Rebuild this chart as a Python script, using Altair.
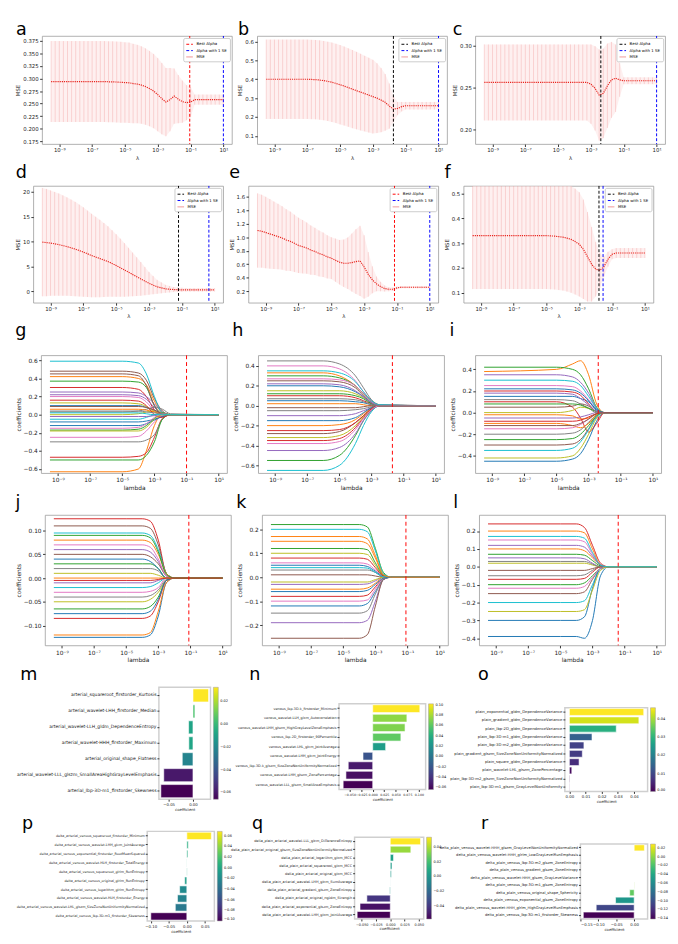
import altair as alt
import pandas as pd

FONT = "DejaVu Sans"
TAB10 = ["#1f77b4", "#ff7f0e", "#2ca02c", "#d62728", "#9467bd",
         "#8c564b", "#e377c2", "#7f7f7f", "#bcbd22", "#17becf"]

# ---------------- lambda grid (log10) for the CV-MSE panels ----------------
LAM_EXP = [-9.5, -9.25, -9.0, -8.75, -8.5, -8.25, -8.0, -7.75, -7.5, -7.25, -7.0,
           -6.75, -6.5, -6.25, -6.0, -5.75, -5.5, -5.25, -5.0, -4.75, -4.5, -4.25,
           -4.0, -3.75, -3.5, -3.25, -3.0, -2.75, -2.5, -2.25, -2.0, -1.75, -1.5,
           -1.25, -1.0, -0.75, -0.5, -0.25, 0.0, 0.25, 0.5, 0.75, 1.0]

A_MEAN = [0.294, 0.294, 0.294, 0.294, 0.294, 0.294, 0.294, 0.294, 0.294, 0.294, 0.294,
          0.294, 0.294, 0.294, 0.2935, 0.2935, 0.293, 0.2925, 0.292, 0.2915, 0.290, 0.289,
          0.287, 0.284, 0.280, 0.275, 0.268, 0.260, 0.253, 0.258, 0.265, 0.259, 0.254,
          0.252, 0.253, 0.258, 0.258, 0.258, 0.258, 0.258, 0.258, 0.258, 0.258]
A_ERR = [0.0805, 0.0805, 0.0805, 0.0805, 0.0805, 0.0805, 0.0805, 0.0805, 0.0805, 0.0805, 0.0805,
         0.0805, 0.0805, 0.0805, 0.0805, 0.0805, 0.0805, 0.0805, 0.080, 0.080, 0.079, 0.078,
         0.077, 0.076, 0.075, 0.074, 0.073, 0.071, 0.068, 0.063, 0.055, 0.048, 0.042,
         0.035, 0.030, 0.010, 0.010, 0.010, 0.010, 0.010, 0.010, 0.010, 0.010]

B_MEAN = [0.400, 0.400, 0.400, 0.400, 0.400, 0.400, 0.400, 0.400, 0.400, 0.400, 0.400,
          0.399, 0.398, 0.396, 0.393, 0.389, 0.384, 0.378, 0.371, 0.364, 0.356, 0.348,
          0.340, 0.332, 0.324, 0.316, 0.308, 0.300, 0.290, 0.278, 0.258, 0.242, 0.245,
          0.255, 0.260, 0.260, 0.260, 0.260, 0.260, 0.260, 0.260, 0.260, 0.260]
B_ERR = [0.210, 0.210, 0.210, 0.210, 0.210, 0.210, 0.210, 0.210, 0.210, 0.210, 0.210,
         0.210, 0.210, 0.210, 0.210, 0.210, 0.210, 0.210, 0.210, 0.209, 0.208, 0.207,
         0.205, 0.203, 0.200, 0.198, 0.195, 0.185, 0.170, 0.150, 0.120, 0.070, 0.035,
         0.025, 0.020, 0.020, 0.020, 0.020, 0.020, 0.020, 0.020, 0.020, 0.020]

C_MEAN = [0.256, 0.256, 0.256, 0.256, 0.256, 0.256, 0.256, 0.256, 0.256, 0.256, 0.256,
          0.256, 0.256, 0.256, 0.256, 0.256, 0.256, 0.256, 0.256, 0.256, 0.256, 0.256,
          0.256, 0.256, 0.256, 0.256, 0.254, 0.249, 0.241, 0.243, 0.252, 0.259, 0.261,
          0.259, 0.258, 0.258, 0.258, 0.258, 0.258, 0.258, 0.258, 0.258, 0.258]
C_ERR = [0.045, 0.045, 0.045, 0.045, 0.045, 0.045, 0.045, 0.045, 0.045, 0.045, 0.045,
         0.045, 0.045, 0.045, 0.045, 0.045, 0.045, 0.045, 0.045, 0.045, 0.045, 0.045,
         0.045, 0.045, 0.045, 0.045, 0.047, 0.050, 0.054, 0.053, 0.050, 0.045, 0.040,
         0.020, 0.004, 0.004, 0.004, 0.004, 0.004, 0.004, 0.004, 0.004, 0.004]

D_MEAN = [9.9, 9.8, 9.7, 9.55, 9.4, 9.2, 9.0, 8.75, 8.5, 8.2, 7.9,
          7.55, 7.2, 6.9, 6.6, 6.3, 6.0, 5.6, 5.2, 4.75, 4.3, 3.85,
          3.4, 2.95, 2.5, 2.05, 1.6, 1.25, 0.9, 0.7, 0.5, 0.42, 0.35,
          0.32, 0.3, 0.3, 0.3, 0.3, 0.3, 0.3, 0.3, 0.3, 0.3]
D_ERR = [10.9, 10.8, 10.6, 10.45, 10.3, 10.1, 9.9, 9.7, 9.5, 9.25, 9.0,
         8.7, 8.4, 8.1, 7.8, 7.45, 7.1, 6.7, 6.3, 5.85, 5.4, 4.9,
         4.4, 3.9, 3.4, 2.85, 2.3, 1.85, 1.4, 1.1, 0.8, 0.65, 0.5,
         0.45, 0.4, 0.35, 0.35, 0.35, 0.35, 0.35, 0.35, 0.35, 0.35]

E_MEAN = [1.10, 1.09, 1.07, 1.05, 1.03, 1.01, 0.99, 0.96, 0.94, 0.91, 0.88,
          0.86, 0.84, 0.81, 0.79, 0.76, 0.74, 0.71, 0.69, 0.66, 0.63, 0.615,
          0.615, 0.625, 0.64, 0.65, 0.56, 0.45, 0.37, 0.31, 0.27, 0.24, 0.23,
          0.23, 0.25, 0.26, 0.26, 0.26, 0.26, 0.26, 0.26, 0.26, 0.26]
E_ERR = [0.55, 0.54, 0.53, 0.515, 0.50, 0.485, 0.47, 0.455, 0.44, 0.425, 0.41,
         0.395, 0.38, 0.365, 0.35, 0.34, 0.33, 0.32, 0.31, 0.32, 0.33, 0.35,
         0.38, 0.43, 0.48, 0.52, 0.47, 0.33, 0.20, 0.11, 0.07, 0.045, 0.03,
         0.025, 0.02, 0.015, 0.015, 0.015, 0.015, 0.015, 0.015, 0.015, 0.015]

F_MEAN = [0.330, 0.330, 0.330, 0.330, 0.330, 0.330, 0.330, 0.330, 0.330, 0.330, 0.330,
          0.330, 0.330, 0.330, 0.330, 0.330, 0.330, 0.330, 0.330, 0.329, 0.328, 0.326,
          0.324, 0.320, 0.315, 0.306, 0.295, 0.275, 0.245, 0.215, 0.195, 0.190, 0.205,
          0.235, 0.255, 0.260, 0.260, 0.260, 0.260, 0.260, 0.260, 0.260, 0.260]
F_ERR = [0.215, 0.215, 0.215, 0.215, 0.215, 0.215, 0.215, 0.215, 0.215, 0.215, 0.215,
         0.215, 0.215, 0.215, 0.215, 0.215, 0.215, 0.215, 0.215, 0.215, 0.215, 0.215,
         0.215, 0.215, 0.215, 0.213, 0.210, 0.200, 0.180, 0.150, 0.110, 0.070, 0.040,
         0.030, 0.020, 0.020, 0.020, 0.020, 0.020, 0.020, 0.020, 0.020, 0.020]

# ---------------- coefficient paths (value at each log10 lambda of the grid) ----------------
G_GRID = [-9.5, -5, -4, -3.5, -3, -2.5, -2, 1]
G_PATHS = [
    [0.10, 0.10, 0.10, 0.08, 0.05, 0.01, 0, 0],
    [0.42, 0.42, 0.40, 0.33, 0.15, 0.02, 0, 0],
    [0.37, 0.37, 0.36, 0.30, 0.10, 0.01, 0, 0],
    [0.30, 0.30, 0.28, 0.20, 0.05, -0.02, 0, 0],
    [0.25, 0.25, 0.24, 0.20, 0.12, 0.03, 0, 0],
    [0.48, 0.48, 0.46, 0.38, 0.18, 0.04, 0, 0],
    [0.20, 0.20, 0.19, 0.14, 0.04, 0.0, 0, 0],
    [0.03, 0.03, 0.04, 0.06, 0.08, 0.06, 0.01, 0],
    [0.0, 0.0, 0.01, 0.03, 0.04, 0.02, 0, 0],
    [0.59, 0.59, 0.57, 0.45, 0.20, 0.02, 0, 0],
    [-0.08, -0.08, -0.08, -0.07, -0.05, -0.02, 0, 0],
    [-0.63, -0.63, -0.60, -0.40, -0.12, 0.01, 0, 0],
    [-0.17, -0.17, -0.16, -0.12, -0.04, 0.02, 0, 0],
    [-0.47, -0.47, -0.46, -0.42, -0.25, -0.04, 0, 0],
    [0.22, 0.22, 0.21, 0.17, 0.08, 0.01, 0, 0],
    [0.45, 0.45, 0.43, 0.32, 0.10, 0.0, 0, 0],
    [-0.25, -0.25, -0.24, -0.18, -0.08, -0.01, 0, 0],
    [-0.30, -0.30, -0.30, -0.28, -0.22, -0.05, 0, 0],
    [0.13, 0.13, 0.12, 0.09, 0.03, 0.0, 0, 0],
    [-0.05, -0.05, -0.05, -0.03, 0.0, 0.01, 0, 0],
    [-0.12, -0.12, -0.12, -0.10, -0.06, -0.02, 0, 0],
    [0.06, 0.06, 0.06, 0.05, 0.03, 0.01, 0, 0],
    [-0.50, -0.50, -0.50, -0.45, -0.30, -0.05, 0, 0],
    [0.16, 0.16, 0.15, 0.10, 0.0, -0.03, 0, 0],
    [-0.02, -0.02, -0.02, -0.02, -0.01, 0.0, 0, 0],
    [0.09, 0.09, 0.09, 0.08, 0.05, 0.01, 0, 0],
    [-0.15, -0.15, -0.14, -0.10, -0.03, 0.01, 0, 0],
    [0.04, 0.04, 0.04, 0.03, 0.02, 0.01, 0, 0],
    [-0.18, -0.18, -0.18, -0.14, -0.05, 0.0, 0, 0],
    [0.02, 0.02, 0.02, 0.01, 0.0, 0.0, 0, 0],
]

H_GRID = [-9.5, -6, -5, -4, -3.5, -3, -2.5, 1]
H_PATHS = [
    [0.05, 0.05, 0.05, 0.04, 0.03, 0.01, 0, 0],
    [0.33, 0.33, 0.30, 0.20, 0.12, 0.05, 0.01, 0],
    [-0.55, -0.55, -0.50, -0.30, -0.15, -0.05, 0, 0],
    [-0.35, -0.35, -0.33, -0.22, -0.12, -0.04, 0, 0],
    [-0.45, -0.45, -0.42, -0.28, -0.15, -0.05, 0, 0],
    [0.25, 0.25, 0.24, 0.18, 0.10, 0.03, 0, 0],
    [0.40, 0.40, 0.37, 0.25, 0.14, 0.05, 0.01, 0],
    [0.45, 0.45, 0.42, 0.30, 0.18, 0.06, 0.01, 0],
    [0.15, 0.15, 0.15, 0.12, 0.08, 0.03, 0, 0],
    [-0.65, -0.65, -0.60, -0.38, -0.20, -0.06, 0, 0],
    [0.20, 0.20, 0.19, 0.14, 0.09, 0.03, 0, 0],
    [-0.20, -0.20, -0.19, -0.14, -0.08, -0.02, 0, 0],
    [0.30, 0.30, 0.28, 0.20, 0.12, 0.04, 0, 0],
    [0.10, 0.10, 0.10, 0.08, 0.05, 0.02, 0, 0],
    [-0.10, -0.10, -0.10, -0.08, -0.05, -0.02, 0, 0],
    [-0.28, -0.28, -0.26, -0.17, -0.10, -0.03, 0, 0],
    [0.27, 0.27, 0.26, 0.20, 0.12, 0.04, 0, 0],
    [-0.05, -0.05, -0.05, -0.04, -0.03, -0.01, 0, 0],
    [-0.32, -0.32, -0.30, -0.20, -0.11, -0.03, 0, 0],
    [0.35, 0.35, 0.33, 0.24, 0.14, 0.05, 0.01, 0],
    [-0.15, -0.15, -0.15, -0.12, -0.07, -0.02, 0, 0],
    [0.02, 0.02, 0.02, 0.02, 0.01, 0.0, 0, 0],
    [0.12, 0.12, 0.12, 0.10, 0.07, 0.02, 0, 0],
    [-0.25, -0.25, -0.24, -0.17, -0.10, -0.03, 0, 0],
    [0.22, 0.22, 0.21, 0.15, 0.09, 0.03, 0, 0],
    [-0.02, -0.02, -0.02, -0.02, -0.01, 0.0, 0, 0],
    [-0.38, -0.38, -0.36, -0.24, -0.13, -0.04, 0, 0],
    [0.07, 0.07, 0.07, 0.06, 0.04, 0.01, 0, 0],
]

I_GRID = [-9.5, -5, -4, -3.5, -3, -2.5, -2, 1]
I_PATHS = [
    [-0.45, -0.45, -0.43, -0.38, -0.25, -0.08, 0, 0],
    [0.38, 0.40, 0.45, 0.48, 0.35, 0.08, 0, 0],
    [0.42, 0.42, 0.40, 0.35, 0.22, 0.05, 0, 0],
    [0.10, 0.10, 0.05, -0.05, -0.18, -0.10, 0, 0],
    [0.35, 0.35, 0.33, 0.28, 0.18, 0.04, 0, 0],
    [-0.30, -0.30, -0.29, -0.25, -0.15, -0.03, 0, 0],
    [0.25, 0.25, 0.24, 0.20, 0.12, 0.03, 0, 0],
    [-0.20, -0.20, -0.19, -0.16, -0.09, -0.02, 0, 0],
    [-0.42, -0.42, -0.40, -0.33, -0.20, -0.05, 0, 0],
    [0.30, 0.30, 0.29, 0.25, 0.15, 0.04, 0, 0],
    [0.15, 0.15, 0.15, 0.13, 0.10, 0.03, 0, 0],
    [-0.10, -0.10, -0.12, -0.14, -0.10, -0.02, 0, 0],
    [-0.25, -0.25, -0.24, -0.20, -0.12, -0.03, 0, 0],
    [0.20, 0.20, 0.19, 0.16, 0.08, 0.01, 0, 0],
    [-0.05, -0.05, -0.05, -0.04, -0.02, 0.0, 0, 0],
    [0.05, 0.05, 0.06, 0.08, 0.06, 0.01, 0, 0],
    [-0.15, -0.15, -0.14, -0.11, -0.06, -0.01, 0, 0],
    [0.12, 0.12, 0.11, 0.08, 0.04, 0.0, 0, 0],
    [0.00, 0.00, 0.02, 0.05, 0.04, 0.01, 0, 0],
    [-0.35, -0.35, -0.33, -0.27, -0.16, -0.04, 0, 0],
    [0.22, 0.22, 0.21, 0.18, 0.11, 0.02, 0, 0],
    [-0.02, -0.02, -0.03, -0.06, -0.05, -0.01, 0, 0],
    [0.08, 0.08, 0.08, 0.07, 0.04, 0.01, 0, 0],
    [-0.08, -0.08, -0.08, -0.07, -0.04, -0.01, 0, 0],
    [0.18, 0.18, 0.17, 0.13, 0.07, 0.01, 0, 0],
    [-0.12, -0.12, -0.12, -0.10, -0.06, -0.01, 0, 0],
]

J_GRID = [-9.5, -5, -4, -3.5, -3, -2.5, -2, 1]
J_PATHS = [
    [-0.125, -0.125, -0.125, -0.12, -0.08, -0.01, 0, 0],
    [-0.12, -0.12, -0.12, -0.115, -0.07, -0.01, 0, 0],
    [0.03, 0.03, 0.03, 0.03, 0.02, 0.0, 0, 0],
    [0.125, 0.125, 0.125, 0.12, 0.08, 0.01, 0, 0],
    [0.06, 0.06, 0.06, 0.055, 0.035, 0.005, 0, 0],
    [0.11, 0.11, 0.11, 0.105, 0.07, 0.01, 0, 0],
    [-0.03, -0.03, -0.03, -0.028, -0.02, 0.0, 0, 0],
    [0.02, 0.02, 0.02, 0.02, 0.015, 0.0, 0, 0],
    [-0.05, -0.05, -0.05, -0.045, -0.03, -0.005, 0, 0],
    [0.095, 0.095, 0.095, 0.09, 0.06, 0.01, 0, 0],
    [0.04, 0.04, 0.04, 0.035, 0.02, 0.0, 0, 0],
    [0.08, 0.08, 0.08, 0.075, 0.05, 0.01, 0, 0],
    [-0.065, -0.065, -0.065, -0.06, -0.04, -0.005, 0, 0],
    [-0.085, -0.085, -0.085, -0.08, -0.05, -0.005, 0, 0],
    [-0.01, -0.01, -0.01, -0.01, -0.005, 0.0, 0, 0],
    [0.05, 0.05, 0.05, 0.045, 0.03, 0.005, 0, 0],
    [0.07, 0.07, 0.07, 0.065, 0.04, 0.005, 0, 0],
    [-0.04, -0.04, -0.04, -0.037, -0.025, -0.003, 0, 0],
    [0.01, 0.01, 0.01, 0.01, 0.006, 0.0, 0, 0],
    [-0.02, -0.02, -0.02, -0.018, -0.01, 0.0, 0, 0],
    [-0.075, -0.075, -0.075, -0.07, -0.045, -0.005, 0, 0],
    [0.0, 0.0, 0.0, 0.0, 0.0, 0.0, 0, 0],
    [0.09, 0.09, 0.09, 0.085, 0.055, 0.008, 0, 0],
    [-0.005, -0.005, -0.005, -0.005, -0.003, 0.0, 0, 0],
]

K_GRID = [-9.5, -5, -4, -3.5, -3, -2.5, -2, 1]
K_PATHS = [
    [-0.12, -0.12, -0.12, -0.11, -0.06, -0.01, 0, 0],
    [0.15, 0.15, 0.15, 0.14, 0.08, 0.01, 0, 0],
    [0.22, 0.22, 0.22, 0.21, 0.12, 0.02, 0, 0],
    [-0.08, -0.08, -0.08, -0.075, -0.04, -0.005, 0, 0],
    [-0.19, -0.19, -0.19, -0.18, -0.10, -0.01, 0, 0],
    [-0.255, -0.255, -0.255, -0.24, -0.12, -0.01, 0, 0],
    [0.06, 0.06, 0.06, 0.055, 0.03, 0.005, 0, 0],
    [0.03, 0.03, 0.03, 0.03, 0.02, 0.0, 0, 0],
    [0.10, 0.10, 0.10, 0.095, 0.05, 0.005, 0, 0],
    [0.20, 0.20, 0.20, 0.19, 0.11, 0.015, 0, 0],
    [0.05, 0.05, 0.05, 0.045, 0.025, 0.003, 0, 0],
    [-0.05, -0.05, -0.05, -0.045, -0.025, 0.0, 0, 0],
    [0.12, 0.12, 0.12, 0.115, 0.06, 0.008, 0, 0],
    [0.08, 0.08, 0.08, 0.075, 0.04, 0.005, 0, 0],
    [-0.03, -0.03, -0.03, -0.028, -0.015, 0.0, 0, 0],
    [0.01, 0.01, 0.01, 0.01, 0.005, 0.0, 0, 0],
    [-0.10, -0.10, -0.10, -0.095, -0.05, -0.005, 0, 0],
    [-0.15, -0.15, -0.15, -0.14, -0.07, -0.008, 0, 0],
    [-0.02, -0.02, -0.02, -0.02, -0.01, 0.0, 0, 0],
    [0.04, 0.04, 0.04, 0.038, 0.02, 0.002, 0, 0],
    [-0.06, -0.06, -0.06, -0.055, -0.03, -0.004, 0, 0],
    [0.17, 0.17, 0.17, 0.16, 0.09, 0.01, 0, 0],
]

L_GRID = [-9.5, -5, -4, -3.5, -3, -2.5, -2, 1]
L_PATHS = [
    [-0.39, -0.39, -0.39, -0.40, -0.30, -0.05, 0, 0],
    [0.10, 0.10, 0.10, 0.09, 0.05, 0.01, 0, 0],
    [-0.10, -0.10, -0.10, -0.09, -0.05, -0.01, 0, 0],
    [0.24, 0.24, 0.24, 0.22, 0.12, 0.02, 0, 0],
    [0.05, 0.05, 0.05, 0.045, 0.02, 0.0, 0, 0],
    [-0.15, -0.15, -0.15, -0.14, -0.07, -0.01, 0, 0],
    [0.15, 0.15, 0.15, 0.14, 0.07, 0.01, 0, 0],
    [-0.05, -0.05, -0.05, -0.045, -0.02, 0.0, 0, 0],
    [0.02, 0.02, 0.02, 0.02, 0.01, 0.0, 0, 0],
    [-0.20, -0.20, -0.20, -0.19, -0.10, -0.01, 0, 0],
    [-0.30, -0.30, -0.30, -0.28, -0.12, -0.01, 0, 0],
    [0.20, 0.20, 0.20, 0.19, 0.10, 0.01, 0, 0],
    [0.07, 0.07, 0.07, 0.065, 0.035, 0.005, 0, 0],
    [-0.07, -0.07, -0.07, -0.065, -0.03, 0.0, 0, 0],
    [0.12, 0.12, 0.12, 0.11, 0.06, 0.01, 0, 0],
    [-0.02, -0.02, -0.02, -0.02, -0.01, 0.0, 0, 0],
    [-0.12, -0.12, -0.12, -0.11, -0.06, -0.01, 0, 0],
    [0.03, 0.03, 0.03, 0.03, 0.015, 0.0, 0, 0],
    [-0.25, -0.25, -0.25, -0.24, -0.13, -0.02, 0, 0],
    [0.17, 0.17, 0.17, 0.16, 0.08, 0.01, 0, 0],
]

# ---------------- selected-feature coefficients ----------------
M_NAMES = ["arterial_squareroot_firstorder_Kurtosis",
           "arterial_wavelet-LHH_firstorder_Median",
           "arterial_wavelet-LLH_gldm_DependenceEntropy",
           "arterial_wavelet-HHH_firstorder_Maximum",
           "arterial_original_shape_Flatness",
           "arterial_wavelet-LLL_glszm_SmallAreaHighGrayLevelEmphasis",
           "arterial_lbp-3D-m1_firstorder_Skewness"]
M_VALS = [0.032, 0.004, -0.009, -0.0085, -0.022, -0.060, -0.066]

N_NAMES = ["venous_lbp-3D-k_firstorder_Minimum",
           "venous_wavelet-LLH_glcm_Autocorrelation",
           "venous_wavelet-LHH_glszm_HighGrayLevelZoneEmphasis",
           "venous_lbp-2D_firstorder_90Percentile",
           "venous_wavelet-LHL_glcm_JointAverage",
           "venous_wavelet-LHH_glcm_JointEnergy",
           "venous_lbp-3D-k_glszm_SizeZoneNonUniformityNormalized",
           "venous_wavelet-LHH_glszm_ZonePercentage",
           "venous_wavelet-LLL_glszm_SmallAreaEmphasis"]
N_VALS = [0.102, 0.074, 0.070, 0.061, 0.028, -0.021, -0.053, -0.058, -0.064]

O_NAMES = ["plain_exponential_gldm_DependenceVariance",
           "plain_gradient_gldm_DependenceVariance",
           "plain_lbp-2D_gldm_DependenceVariance",
           "plain_lbp-3D-m1_gldm_DependenceVariance",
           "plain_lbp-3D-m2_gldm_DependenceVariance",
           "plain_gradient_glszm_SizeZoneNonUniformityNormalized",
           "plain_square_gldm_DependenceVariance",
           "plain_wavelet-LHL_glszm_ZonePercentage",
           "plain_lbp-3D-m2_glszm_SizeZoneNonUniformityNormalized",
           "plain_lbp-3D-m1_glszm_GrayLevelNonUniformity"]
O_VALS = [0.046, 0.043, 0.029, 0.014, 0.009, 0.008, 0.006, 0.0015, 0.0003, 0.0002]

P_NAMES = ["delta_arterial_venous_squareroot_firstorder_Minimum",
           "delta_arterial_venous_wavelet-LHH_glcm_JointAverage",
           "delta_arterial_venous_exponential_firstorder_RootMeanSquared",
           "delta_arterial_venous_wavelet-HLH_firstorder_TotalEnergy",
           "delta_arterial_venous_squareroot_glrlm_RunEntropy",
           "delta_arterial_venous_original_glrlm_RunEntropy",
           "delta_arterial_venous_logarithm_glrlm_RunEntropy",
           "delta_arterial_venous_wavelet-HLH_firstorder_Energy",
           "delta_arterial_venous_wavelet-LHL_glszm_SizeZoneNonUniformityNormalized",
           "delta_arterial_venous_lbp-3D-m1_firstorder_Skewness"]
P_VALS = [0.068, 0.004, 0.003, 0.0003, 0.0008, -0.006, -0.020, -0.026, -0.032, -0.100]

Q_NAMES = ["delta_plain_arterial_wavelet-LLL_glcm_DifferenceEntropy",
           "delta_plain_arterial_original_glszm_SizeZoneNonUniformityNormalized",
           "delta_plain_arterial_logarithm_glcm_MCC",
           "delta_plain_arterial_squareroot_glcm_MCC",
           "delta_plain_arterial_original_glcm_MCC",
           "delta_plain_arterial_wavelet-LHH_glcm_SumAverage",
           "delta_plain_arterial_gradient_glszm_ZoneEntropy",
           "delta_plain_arterial_original_ngtdm_Strength",
           "delta_plain_arterial_exponential_glszm_ZoneEntropy",
           "delta_plain_arterial_wavelet-LHH_glcm_JointAverage"]
Q_VALS = [0.053, 0.036, 0.0057, 0.003, 0.002, 0.0002, -0.001, -0.041, -0.053, -0.058]

R_NAMES = ["delta_plain_venous_wavelet-HHH_glszm_GrayLevelNonUniformityNormalized",
           "delta_plain_venous_wavelet-HHH_glrlm_LowGrayLevelRunEmphasis",
           "delta_plain_venous_lbp-3D-m2_glszm_ZoneEntropy",
           "delta_plain_venous_gradient_glszm_ZoneEntropy",
           "delta_plain_venous_wavelet-HHH_glszm_GrayLevelVariance",
           "delta_plain_venous_lbp-3D-m1_glszm_ZoneEntropy",
           "delta_plain_venous_original_shape_Sphericity",
           "delta_plain_venous_exponential_glszm_ZoneEntropy",
           "delta_plain_venous_wavelet-HHH_glrlm_HighGrayLevelRunEmphasis",
           "delta_plain_venous_lbp-3D-m1_firstorder_Skewness"]
R_VALS = [0.0286, 0.0, 0.0, 0.0, 0.0, 0.001, -0.0125, -0.052, -0.106, -0.142]

# ---------------- helpers ----------------
LOG_TICKS = [1e-9, 1e-7, 1e-5, 1e-3, 1e-1, 1e1]
SUP_EXPR = ("'10' + (datum.value < 1 ? '⁻' : '') + "
            "['⁰','¹','²','³','⁴','⁵','⁶','⁷','⁸','⁹'][abs(round(log(datum.value) / LN10))]")
XSCALE = alt.Scale(type="log", domain=[10 ** -10.05, 10 ** 1.52], nice=False)
W_MSE = 195
W_COEF = 191
LEG_DOMAIN = ["Best Alpha", "Alpha with 1 SE", "MSE"]
IND = dict(color="independent", strokeDash="independent", x="independent", y="independent")
LETTER_FS = 18


def letter_title(t, dx=0, offset=0):
    return alt.TitleParams(text=t, anchor="start", fontSize=LETTER_FS, font=FONT,
                           fontWeight="normal", color="black", dx=dx, offset=offset)


def spacer(hgt=1, title=None):
    ch = alt.Chart(pd.DataFrame({"v": [0]})).mark_point(opacity=0).encode(
        x=alt.X("v:Q", axis=None), y=alt.Y("v:Q", axis=None))
    if title is None:
        return ch.properties(width=1, height=hgt, view=alt.ViewBackground(strokeOpacity=0))
    return ch.properties(width=1, height=hgt, title=title,
                         view=alt.ViewBackground(strokeOpacity=0))


def log_axis(title, fs):
    return alt.Axis(values=LOG_TICKS, labelExpr=SUP_EXPR, title=title, labelFontSize=fs,
                    titleFontSize=fs, tickSize=2.5, labelFlush=False, grid=False,
                    labelOverlap=False)


def mse_panel(letter, mean, err, best, onese, best_color, ydom, yticks, yfmt, h, toff):
    df = pd.DataFrame({
        "lam": [10 ** e for e in LAM_EXP],
        "mean": mean,
        "lo": [m - e for m, e in zip(mean, err)],
        "hi": [m + e for m, e in zip(mean, err)],
    })
    x = alt.X("lam:Q", scale=XSCALE, axis=log_axis("λ", 5.5))
    y_axis = alt.Axis(values=yticks, format=yfmt, title="MSE", labelFontSize=5.5,
                      titleFontSize=5.5, tickSize=2.5, grid=False, labelOverlap=False,
                      labelSeparation=0, tickCount=len(yticks))
    yscale = alt.Scale(domain=ydom, nice=False, zero=False)
    base = alt.Chart(df)
    band = base.mark_area(color="#fde3e3", opacity=0.55, clip=True).encode(
        x=x, y=alt.Y("lo:Q", scale=yscale, axis=y_axis), y2="hi:Q")
    bars = base.mark_rule(color="#f08a8a", opacity=0.45, strokeWidth=0.7, clip=True).encode(
        x=x, y=alt.Y("lo:Q", scale=yscale, axis=y_axis), y2="hi:Q")
    line = base.mark_line(color="#e8241d", strokeWidth=1.2, strokeDash=[1.2, 1.0],
                          clip=True).encode(x=x, y=alt.Y("mean:Q", scale=yscale, axis=y_axis))
    vdf = pd.DataFrame({"lam": [10 ** best, 10 ** onese],
                        "series": ["Best Alpha", "Alpha with 1 SE"]})
    leg = alt.Legend(title=None, orient="top-right", fillColor="white", strokeColor="#cccccc",
                     padding=2.5, offset=2, labelFontSize=4, labelFont=FONT,
                     symbolType="stroke", symbolSize=45, symbolStrokeWidth=1,
                     rowPadding=0.5, labelOffset=3, cornerRadius=1.5)
    vl = alt.Chart(vdf).mark_rule(strokeWidth=1).encode(
        x=x,
        color=alt.Color("series:N", scale=alt.Scale(domain=LEG_DOMAIN,
                                                    range=[best_color, "blue", "#f08a8a"]),
                        legend=leg),
        strokeDash=alt.StrokeDash("series:N", scale=alt.Scale(domain=LEG_DOMAIN,
                                                              range=[[3, 2], [3, 2], [1, 0]]),
                                  legend=leg))
    return alt.layer(band, bars, line, vl).properties(
        width=W_MSE, height=h, title=letter_title(letter, offset=toff))


def coef_panel(letter, grid, paths, best, ydom, yticks, yfmt, h, toff):
    rows = []
    for i, p in enumerate(paths):
        for g, v in zip(grid, p):
            rows.append({"lam": 10 ** g, "val": v, "id": i})
    df = pd.DataFrame(rows)
    lines = alt.Chart(df).mark_line(interpolate="monotone", strokeWidth=1, clip=True).encode(
        x=alt.X("lam:Q", scale=XSCALE, axis=log_axis("lambda", 6)),
        y=alt.Y("val:Q", scale=alt.Scale(domain=ydom, nice=False, zero=False),
                axis=alt.Axis(values=yticks, format=yfmt, title="coefficients",
                              labelFontSize=6, titleFontSize=6, tickSize=2.5, grid=False,
                              labelOverlap=False)),
        color=alt.Color("id:O", scale=alt.Scale(range=TAB10), legend=None),
    )
    vr = alt.Chart(pd.DataFrame({"lam": [10 ** best]})).mark_rule(
        color="red", strokeDash=[4, 3], strokeWidth=1).encode(x="lam:Q")
    return alt.layer(lines, vr).properties(width=W_COEF, height=h,
                                           title=letter_title(letter, offset=toff))


def bar_panel(names, vals, w, h, lfs, xdom, xticks, xfmt, legvals, title=None, xfs=4):
    df = pd.DataFrame({"feature": names, "coef": vals})
    ch = alt.Chart(df).mark_bar(stroke="white", strokeWidth=0.6).encode(
        y=alt.Y("feature:N", sort=names,
                scale=alt.Scale(paddingInner=0.18, paddingOuter=0.1),
                axis=alt.Axis(title=None, labelFontSize=lfs, labelLimit=500, tickSize=2,
                              labelPadding=1, labelOverlap=False)),
        x=alt.X("coef:Q", scale=alt.Scale(domain=xdom, nice=False, zero=False),
                axis=alt.Axis(values=xticks, format=xfmt, title="coefficient",
                              labelFontSize=xfs, titleFontSize=4, tickSize=2,
                              titlePadding=1, grid=False, labelOverlap=False)),
        color=alt.Color("coef:Q", scale=alt.Scale(scheme="viridis"),
                        legend=alt.Legend(title=None, orient="right", gradientLength=h,
                                          gradientThickness=5, labelFontSize=3.6,
                                          values=legvals, format=".2f", offset=3,
                                          gradientStrokeColor="#999999", labelOverlap=False,
                                          gradientStrokeWidth=0.5, labelOffset=2)),
    )
    if title is None:
        return ch.properties(width=w, height=h,
                             view=alt.ViewBackground(stroke="#cfcfcf", strokeWidth=1.5))
    return ch.properties(width=w, height=h, title=title,
                         view=alt.ViewBackground(stroke="#cfcfcf", strokeWidth=1.5))


def shifted(letter, dx, offset, drop, panel):
    """panel placed `drop` px lower than the row top, letter kept at the row's title height"""
    return alt.vconcat(spacer(drop, letter_title(letter, dx=dx, offset=offset)), panel,
                       spacing=0).resolve_scale(**IND)


# ---------------- panels ----------------
OFF1, OFF2, OFF3, OFF4, OFF5, OFF6 = -3, 4, 15, 3, 3, -2
H1 = 111

a = mse_panel("a", A_MEAN, A_ERR, -1.05, 1.0, "red", [0.1696, 0.3846],
              [0.175, 0.2, 0.225, 0.25, 0.275, 0.3, 0.325, 0.35, 0.375], ".3f", H1, OFF1)
b = mse_panel("b", B_MEAN, B_ERR, -1.75, 1.0, "black", [0.057, 0.629],
              [0.1, 0.2, 0.3, 0.4, 0.5, 0.6], ".1f", H1, OFF1)
c = mse_panel("c", C_MEAN, C_ERR, -2.4, 1.0, "black", [0.183, 0.311],
              [0.20, 0.25, 0.30], ".2f", H1, OFF1)
d = mse_panel("d", D_MEAN, D_ERR, -1.2, 0.65, "black", [-2.3, 21.2],
              [0, 5, 10, 15, 20], "d", 120, OFF2)
e = mse_panel("e", E_MEAN, E_ERR, -1.15, 1.0, "red", [0.03, 1.76],
              [0.2, 0.4, 0.6, 0.8, 1.0, 1.2, 1.4, 1.6], ".1f", 120, OFF2)
f = mse_panel("f", F_MEAN, F_ERR, -1.8, -1.55, "black", [0.06, 0.53],
              [0.1, 0.2, 0.3, 0.4, 0.5], ".1f", 120, OFF2)

g = coef_panel("g", G_GRID, G_PATHS, -1.0, [-0.645, 0.655],
               [-0.6, -0.4, -0.2, 0.0, 0.2, 0.4, 0.6], ".1f", 121, OFF3)
h = coef_panel("h", H_GRID, H_PATHS, -1.7, [-0.677, 0.506],
               [-0.6, -0.4, -0.2, 0.0, 0.2, 0.4], ".1f", 121, OFF3)
i = coef_panel("i", I_GRID, I_PATHS, -2.4, [-0.56, 0.53],
               [-0.4, -0.2, 0.0, 0.2, 0.4], ".1f", 121, OFF3)
j = coef_panel("j", J_GRID, J_PATHS, -1.1, [-0.142, 0.133],
               [-0.10, -0.05, 0.0, 0.05, 0.10], ".2f", 134, OFF4)
k = coef_panel("k", K_GRID, K_PATHS, -1.1, [-0.285, 0.26],
               [-0.2, -0.1, 0.0, 0.1, 0.2], ".1f", 134, OFF4)
l = coef_panel("l", L_GRID, L_PATHS, -1.4, [-0.44, 0.29],
               [-0.4, -0.3, -0.2, -0.1, 0.0, 0.1, 0.2], ".1f", 134, OFF4)

m = bar_panel(M_NAMES, M_VALS, 53, 115, 4.6, [-0.070, 0.036], [-0.05, 0.0], ".2f",
              [-0.06, -0.04, -0.02, 0.0, 0.02], title=letter_title("m", dx=4, offset=OFF5))
n = shifted("n", -90, OFF5, 16,
            bar_panel(N_NAMES, N_VALS, 89, 88, 3.5, [-0.073, 0.1146],
                      [-0.05, -0.025, 0.0, 0.025, 0.05, 0.075, 0.1], ".3f",
                      [-0.06, -0.04, -0.02, 0.0, 0.02, 0.04, 0.06, 0.08, 0.10], xfs=3.3))
o = shifted("o", -87, OFF5, 20,
            bar_panel(O_NAMES, O_VALS, 85, 86, 3.9, [-0.0028, 0.0484],
                      [0.0, 0.01, 0.02, 0.03, 0.04], ".2f",
                      [0.0, 0.01, 0.02, 0.03, 0.04]))
p = bar_panel(P_NAMES, P_VALS, 69, 92, 3.4, [-0.110, 0.0765],
              [-0.10, -0.05, 0.0, 0.05], ".2f",
              [-0.10, -0.08, -0.06, -0.04, -0.02, 0.0, 0.02, 0.04, 0.06],
              title=letter_title("p", dx=6, offset=OFF6))
q = shifted("q", -103, OFF6, 4,
            bar_panel(Q_NAMES, Q_VALS, 71, 84, 3.55, [-0.0625, 0.0585],
                      [-0.05, -0.025, 0.0, 0.025, 0.05], ".3f",
                      [-0.04, -0.02, 0.0, 0.02, 0.04], xfs=3.5))
r = shifted("r", -100, OFF6, 12,
            bar_panel(R_NAMES, R_VALS, 69, 77, 3.7, [-0.150, 0.0375],
                      [-0.15, -0.10, -0.05, 0.0], ".2f",
                      [-0.14, -0.12, -0.10, -0.08, -0.06, -0.04, -0.02, 0.0, 0.02]))


def row(*cells, spacing=4):
    inner = alt.hconcat(*cells, spacing=spacing).resolve_scale(**IND)
    return alt.hconcat(spacer(), inner, spacing=0).resolve_scale(**IND)


chart = alt.vconcat(
    row(a, b, c, spacing=4),
    row(d, e, f, spacing=4),
    row(g, h, i, spacing=4),
    row(j, k, l, spacing=4),
    row(m, n, o, spacing=0),
    row(p, q, r, spacing=-8),
    spacing=2,
).resolve_scale(**IND).configure(font=FONT, padding=0).configure_view(
    stroke="#9a9a9a", strokeWidth=0.8
).configure_axis(
    labelFont=FONT, titleFont=FONT, domain=False, tickColor="#333333",
    labelColor="#222222", titleColor="#222222", titleFontWeight="normal",
    labelPadding=1.5, titlePadding=2, labelOverlap=False
).configure_title(font=FONT)

chart.save("out.html", embed_options={"renderer": "svg", "actions": False})
